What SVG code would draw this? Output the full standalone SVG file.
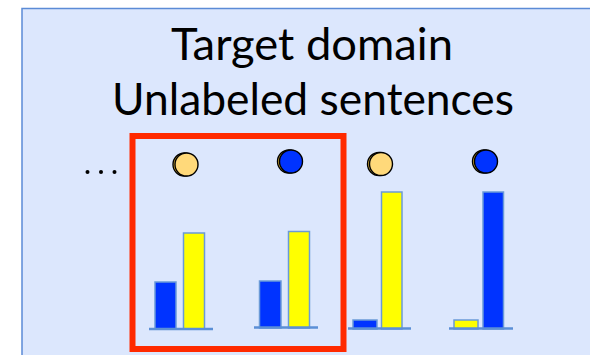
<svg xmlns="http://www.w3.org/2000/svg" width="590" height="355" viewBox="0 0 590 355">
  <style>
    .title { font-family: "Lato", "Liberation Sans", sans-serif; font-size: 44px; fill: #000; }
    .bar { stroke: #6a9ad8; stroke-width: 1.5; }
    .blue { fill: #0033ff; }
    .yellow { fill: #ffff00; }
    .axis { stroke: #5b8fd6; stroke-width: 2.5; }
    .dot { stroke: #000; stroke-width: 1.4; }
    .back { fill: #e9bd3a; }
    .orange { fill: #ffd97a; }
  </style>

  <!-- panel -->
  <rect x="22" y="8.5" width="600" height="360" fill="#dce7fd" stroke="#5b8bd6" stroke-width="1.5"/>

  <text class="title" x="312" y="60" text-anchor="middle" textLength="282" lengthAdjust="spacingAndGlyphs">Target domain</text>
  <text class="title" x="313" y="115" text-anchor="middle" textLength="402" lengthAdjust="spacingAndGlyphs">Unlabeled sentences</text>

  <!-- ellipsis -->
  <g id="ellipsis" fill="#000">
    <circle cx="87.5" cy="172" r="2"/>
    <circle cx="101" cy="172" r="2"/>
    <circle cx="114.5" cy="172" r="2"/>
  </g>

  <!-- sentence 1 -->
  <g id="s1">
    <circle class="dot back" cx="184.5" cy="164.5" r="11.5"/>
    <circle class="dot orange" cx="186.5" cy="164.5" r="11.5"/>
    <rect class="bar blue" x="155" y="282" width="21" height="47"/>
    <rect class="bar yellow" x="183.5" y="233" width="21" height="96"/>
    <line class="axis" x1="149" y1="329" x2="213" y2="329"/>
  </g>

  <!-- sentence 2 -->
  <g id="s2">
    <circle class="dot back" cx="289" cy="161.5" r="11.5"/>
    <circle class="dot blue" cx="291" cy="161.5" r="11.5"/>
    <rect class="bar blue" x="259.5" y="281" width="21.5" height="47"/>
    <rect class="bar yellow" x="288.5" y="231.5" width="21" height="96.5"/>
    <line class="axis" x1="254" y1="327.5" x2="318" y2="327.5"/>
  </g>

  <!-- sentence 3 -->
  <g id="s3">
    <circle class="dot back" cx="379" cy="164" r="11.5"/>
    <circle class="dot orange" cx="381" cy="164" r="11.5"/>
    <rect class="bar blue" x="353" y="320" width="24" height="9"/>
    <rect class="bar yellow" x="381.5" y="192" width="20.5" height="137"/>
    <line class="axis" x1="348" y1="328.5" x2="411" y2="328.5"/>
  </g>

  <!-- sentence 4 -->
  <g id="s4">
    <circle class="dot back" cx="484" cy="161.5" r="11.5"/>
    <circle class="dot blue" cx="486" cy="161.5" r="11.5"/>
    <rect class="bar yellow" x="454" y="320" width="24" height="9"/>
    <rect class="bar blue" x="483" y="192" width="20.5" height="137"/>
    <line class="axis" x1="449" y1="328.5" x2="513" y2="328.5"/>
  </g>

  <!-- highlight -->
  <g id="highlight">
    <rect x="132.5" y="136" width="211" height="213" fill="none" stroke="#ff2a00" stroke-width="6"/>
  </g>
</svg>
